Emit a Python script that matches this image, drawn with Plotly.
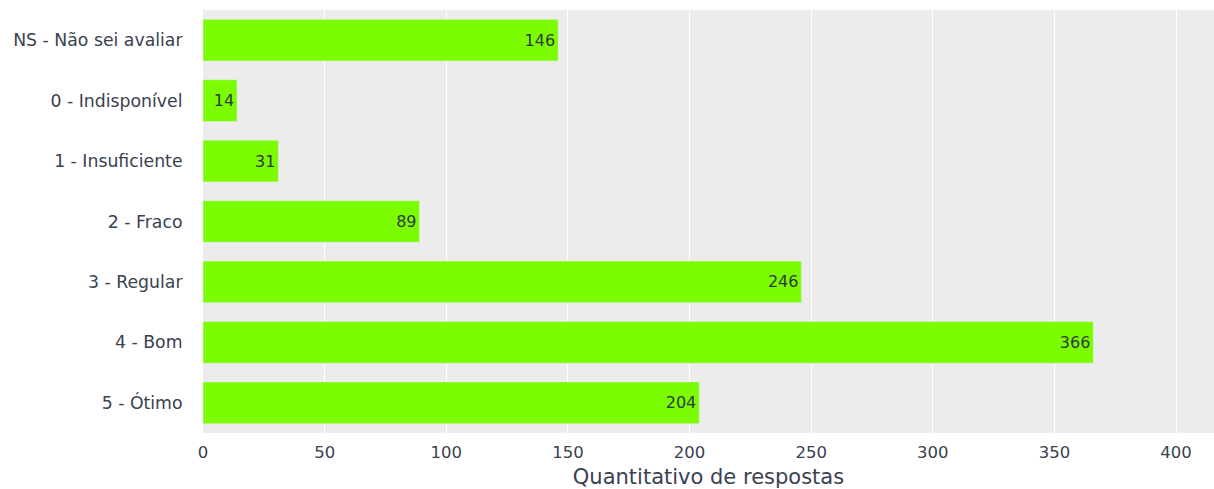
import plotly.graph_objects as go

categorias = ["5 - Ótimo", "4 - Bom", "3 - Regular", "2 - Fraco", "1 - Insuficiente", "0 - Indisponível", "NS - Não sei avaliar"]
valores = [204, 366, 246, 89, 31, 14, 146]
ticks_x = [0, 50, 100, 150, 200, 250, 300, 350, 400]

fig = go.Figure(go.Bar(
    y=categorias,
    x=valores,
    orientation="h",
    marker=dict(color="#7CFC00"),
    text=valores,
    textposition="inside",
    insidetextanchor="end",
    textfont=dict(size=16, color="#2f3a40"),
))

fig.update_layout(
    width=1214,
    height=489,
    margin=dict(l=203, r=0, t=10, b=55.5),
    paper_bgcolor="white",
    plot_bgcolor="rgb(236,236,236)",
    font=dict(family="DejaVu Sans", size=16, color="#3a4150"),
    bargap=0.31,
    showlegend=False,
    xaxis=dict(
        title=dict(text="Quantitativo de respostas", font=dict(size=21), standoff=9),
        range=[0, 415.6],
        tickvals=ticks_x,
        tickfont=dict(size=16.5),
        ticks="outside",
        ticklen=4,
        tickcolor="rgba(0,0,0,0)",
        gridcolor="white",
        zeroline=False,
        showline=False,
    ),
    yaxis=dict(
        categoryorder="array",
        categoryarray=categorias,
        showgrid=False,
        tickfont=dict(size=17.3),
        ticks="outside",
        ticklen=16,
        tickcolor="rgba(0,0,0,0)",
    ),
)

fig.write_html(
    "out.html",
    config={"displayModeBar": False},
    post_script="document.body.style.margin='0';document.body.style.overflow='hidden';",
)
